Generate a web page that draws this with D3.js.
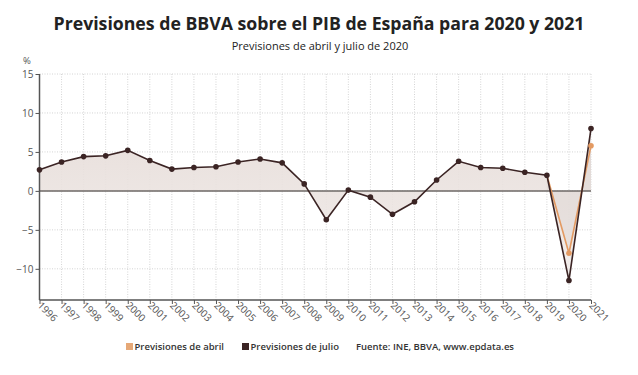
<!DOCTYPE html>
<html><head><meta charset="utf-8">
<script src="https://cdn.jsdelivr.net/npm/d3@7"></script>
<style>body{margin:0;background:#fff;} svg{display:block;font-family:"Open Sans",sans-serif;}</style>
</head><body>
<svg id="c" width="638" height="375"></svg>
<script>
const years = [1996,1997,1998,1999,2000,2001,2002,2003,2004,2005,2006,2007,2008,2009,2010,2011,2012,2013,2014,2015,2016,2017,2018,2019,2020,2021];
const julio = [2.7,3.7,4.4,4.5,5.2,3.9,2.8,3.0,3.1,3.7,4.1,3.6,0.9,-3.7,0.1,-0.8,-3.0,-1.4,1.4,3.8,3.0,2.9,2.4,2.0,-11.5,8.0];
const abrilYears = [2019,2020,2021];
const abril = [2.0,-8.0,5.8];
const yTicks = [-10,-5,0,5,10,15];

const svg = d3.select("#c");
const x = d3.scaleLinear().domain([1996,2021]).range([39.5,591]);
const y = d3.scaleLinear().domain([-14,15]).range([300,74]);

svg.append("text").attr("x",319).attr("y",30).attr("text-anchor","middle")
  .attr("font-size",17.7).attr("font-weight","bold").attr("fill","#222")
  .text("Previsiones de BBVA sobre el PIB de España para 2020 y 2021");
svg.append("text").attr("x",320).attr("y",50).attr("text-anchor","middle")
  .attr("font-size",11).attr("fill","#222").text("Previsiones de abril y julio de 2020");
svg.append("text").attr("x",23).attr("y",64).attr("font-size",9.5).attr("fill","#555").text("%");

// grid
const g = svg.append("g");
g.selectAll(".vg").data(years).join("line")
  .attr("x1",d=>x(d)).attr("x2",d=>x(d)).attr("y1",y(15)).attr("y2",300)
  .attr("stroke","#d4d4d4").attr("stroke-width",1).attr("stroke-dasharray","1,1.5");
g.selectAll(".hg").data(yTicks).join("line")
  .attr("x1",39.5).attr("x2",591).attr("y1",d=>y(d)).attr("y2",d=>y(d))
  .attr("stroke","#d4d4d4").attr("stroke-width",1).attr("stroke-dasharray","1,1.5");

// areas
const gradId="ag";
const defs = svg.append("defs");
const lg = defs.append("linearGradient").attr("id",gradId)
  .attr("gradientUnits","userSpaceOnUse").attr("x1",0).attr("x2",0).attr("y1",y(8)).attr("y2",y(-11.5));
lg.append("stop").attr("offset","0").attr("stop-color","#e6dcd8");
lg.append("stop").attr("offset","1").attr("stop-color","#f1ecea");
const area = d3.area().x(d=>x(d[0])).y0(y(0)).y1(d=>y(d[1]));
svg.append("path").datum(years.map((d,i)=>[d,julio[i]])).attr("d",area)
  .attr("fill","url(#"+gradId+")").attr("opacity",0.9);
svg.append("path").datum(abrilYears.map((d,i)=>[d,abril[i]])).attr("d",area)
  .attr("fill","#d8cfcb").attr("opacity",0.35);

// zero line
svg.append("line").attr("x1",39.5).attr("x2",591).attr("y1",y(0)).attr("y2",y(0))
  .attr("stroke","#6e6866").attr("stroke-width",1.5);

// axes
const yAxis = d3.axisLeft(y).tickValues(yTicks).tickSize(4).tickFormat(d3.format("d"));
const ya = svg.append("g").attr("transform","translate(39.5,0)").call(yAxis);
ya.select(".domain").attr("stroke","#555").attr("stroke-width",1.5).attr("d","M0,"+y(15)+"V300");
ya.selectAll(".tick line").attr("stroke","#555");
ya.selectAll("text").attr("font-size",10).attr("fill","#555").attr("font-family","Open Sans, sans-serif").attr("x",-6);

const xAxis = d3.axisBottom(x).tickValues(years).tickSize(4).tickFormat(d3.format("d"));
const xa = svg.append("g").attr("transform","translate(0,300)").call(xAxis);
xa.select(".domain").attr("stroke","#555").attr("stroke-width",1.5).attr("d","M39.5,0H591");
xa.selectAll(".tick line").attr("stroke","#555");
xa.selectAll("text").attr("font-size",10).attr("fill","#555").attr("font-family","Open Sans, sans-serif")
  .attr("text-anchor","start").attr("dy",0).attr("y",0)
  .attr("transform","translate(-3,6) rotate(45)");

// lines
const line = d3.line().x(d=>x(d[0])).y(d=>y(d[1]));
svg.append("path").datum(abrilYears.map((d,i)=>[d,abril[i]])).attr("d",line)
  .attr("fill","none").attr("stroke","#e39a62").attr("stroke-width",1.6);
svg.append("path").datum(years.map((d,i)=>[d,julio[i]])).attr("d",line)
  .attr("fill","none").attr("stroke","#3b2424").attr("stroke-width",1.6);
svg.selectAll(".pj").data(years.map((d,i)=>[d,julio[i]])).join("circle")
  .attr("cx",d=>x(d[0])).attr("cy",d=>y(d[1])).attr("r",2.8).attr("fill","#3b2424");
svg.selectAll(".pa").data(abrilYears.slice(1).map((d,i)=>[d,abril[i+1]])).join("circle")
  .attr("cx",d=>x(d[0])).attr("cy",d=>y(d[1])).attr("r",2.8).attr("fill","#e39a62");

// legend
const leg = [{t:"Previsiones de abril",c:"#e6a877",x:126},{t:"Previsiones de julio",c:"#3b2424",x:242}];
leg.forEach(l=>{
  svg.append("rect").attr("x",l.x).attr("y",343).attr("width",7).attr("height",7).attr("fill",l.c);
  svg.append("text").attr("x",l.x+8.5).attr("y",350).attr("font-size",9.5).attr("font-weight",600).attr("fill","#333").text(l.t);
});
svg.append("text").attr("x",356).attr("y",350).attr("font-size",9.5).attr("font-weight",600).attr("fill","#333").text("Fuente: INE, BBVA, www.epdata.es");
</script>
</body></html>
